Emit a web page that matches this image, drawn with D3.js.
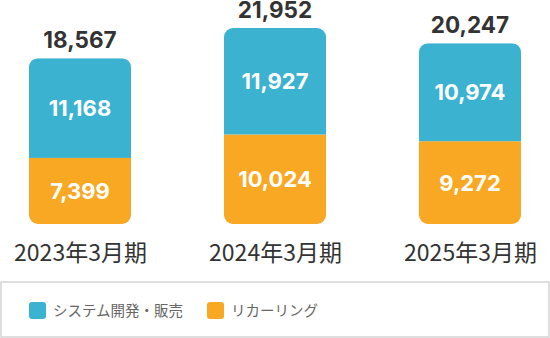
<!DOCTYPE html>
<html><head><meta charset="utf-8">
<script src="https://cdn.jsdelivr.net/npm/d3@7/dist/d3.min.js"></script>
<style>
html,body{margin:0;padding:0;background:#fff;}
svg{display:block;}
</style></head>
<body>
<svg id="chart" width="550" height="338"></svg>
<script>
const categories = ["2023年3月期", "2024年3月期", "2025年3月期"];
const seriesNames = ["システム開発・販売", "リカーリング"];
const systemDev = [11168, 11927, 10974];
const recurring = [7399, 10024, 9272];
const totals = [18567, 21952, 20247];
const colors = ["#3bb2cf", "#f9a823"];

const svg = d3.select("#chart");
const x = d3.scalePoint().domain(categories).range([80, 470]);
const y = d3.scaleLinear().domain([0, 21952]).range([224, 28]);
const barW = 102, radius = 9;
const fmt = d3.format(",");
const numFont = "Inter, 'Noto Sans', sans-serif";
const jpFont = "'Noto Sans CJK JP', 'Noto Sans', sans-serif";

const defs = svg.append("defs");
categories.forEach((c, i) => {
  defs.append("clipPath").attr("id", "clip" + i)
    .append("rect")
    .attr("x", x(c) - barW / 2).attr("y", y(totals[i]))
    .attr("width", barW).attr("height", y(0) - y(totals[i]))
    .attr("rx", radius).attr("ry", radius);
});

const g = svg.append("g");
categories.forEach((c, i) => {
  const bg = g.append("g").attr("clip-path", "url(#clip" + i + ")");
  bg.append("rect")
    .attr("x", x(c) - barW / 2).attr("y", y(recurring[i]))
    .attr("width", barW).attr("height", y(0) - y(recurring[i]))
    .attr("fill", colors[1]);
  bg.append("rect")
    .attr("x", x(c) - barW / 2).attr("y", y(recurring[i] + systemDev[i]))
    .attr("width", barW).attr("height", y(recurring[i]) - y(recurring[i] + systemDev[i]))
    .attr("fill", colors[0]);

  g.append("text")
    .attr("x", x(c)).attr("y", (y(recurring[i]) + y(recurring[i] + systemDev[i])) / 2)
    .attr("dy", "0.36em")
    .attr("text-anchor", "middle")
    .attr("font-family", numFont).attr("font-weight", 700).attr("font-size", 22)
    .attr("fill", "#fff").text(fmt(systemDev[i]));
  g.append("text")
    .attr("x", x(c)).attr("y", (y(0) + y(recurring[i])) / 2)
    .attr("dy", "0.36em")
    .attr("text-anchor", "middle")
    .attr("font-family", numFont).attr("font-weight", 700).attr("font-size", 22)
    .attr("fill", "#fff").text(fmt(recurring[i]));
  g.append("text")
    .attr("x", x(c)).attr("y", y(totals[i]) - 10)
    .attr("text-anchor", "middle")
    .attr("font-family", numFont).attr("font-weight", 700).attr("font-size", 22.5)
    .attr("fill", "#333").text(fmt(totals[i]));
});

const axis = d3.axisBottom(x).tickSize(0).tickPadding(0);
const ax = svg.append("g").attr("transform", "translate(0,242)").call(axis);
ax.select(".domain").remove();
ax.selectAll("text")
  .attr("dy", null).attr("y", 18.5)
  .attr("font-family", jpFont).attr("font-size", 23)
  .attr("fill", "#333");

svg.append("rect")
  .attr("x", 1).attr("y", 282).attr("width", 548).attr("height", 55)
  .attr("fill", "#fff").attr("stroke", "#d3d3d3").attr("stroke-width", 1.5);
const legendX = [29, 207];
seriesNames.forEach((n, i) => {
  svg.append("rect")
    .attr("x", legendX[i]).attr("y", 302).attr("width", 17).attr("height", 17)
    .attr("rx", 3).attr("fill", colors[i]);
  svg.append("text")
    .attr("x", legendX[i] + 24).attr("y", 310.5).attr("dy", "0.36em")
    .attr("font-family", jpFont).attr("font-size", 14.5)
    .attr("fill", "#666").text(n);
});
</script>
</body></html>
